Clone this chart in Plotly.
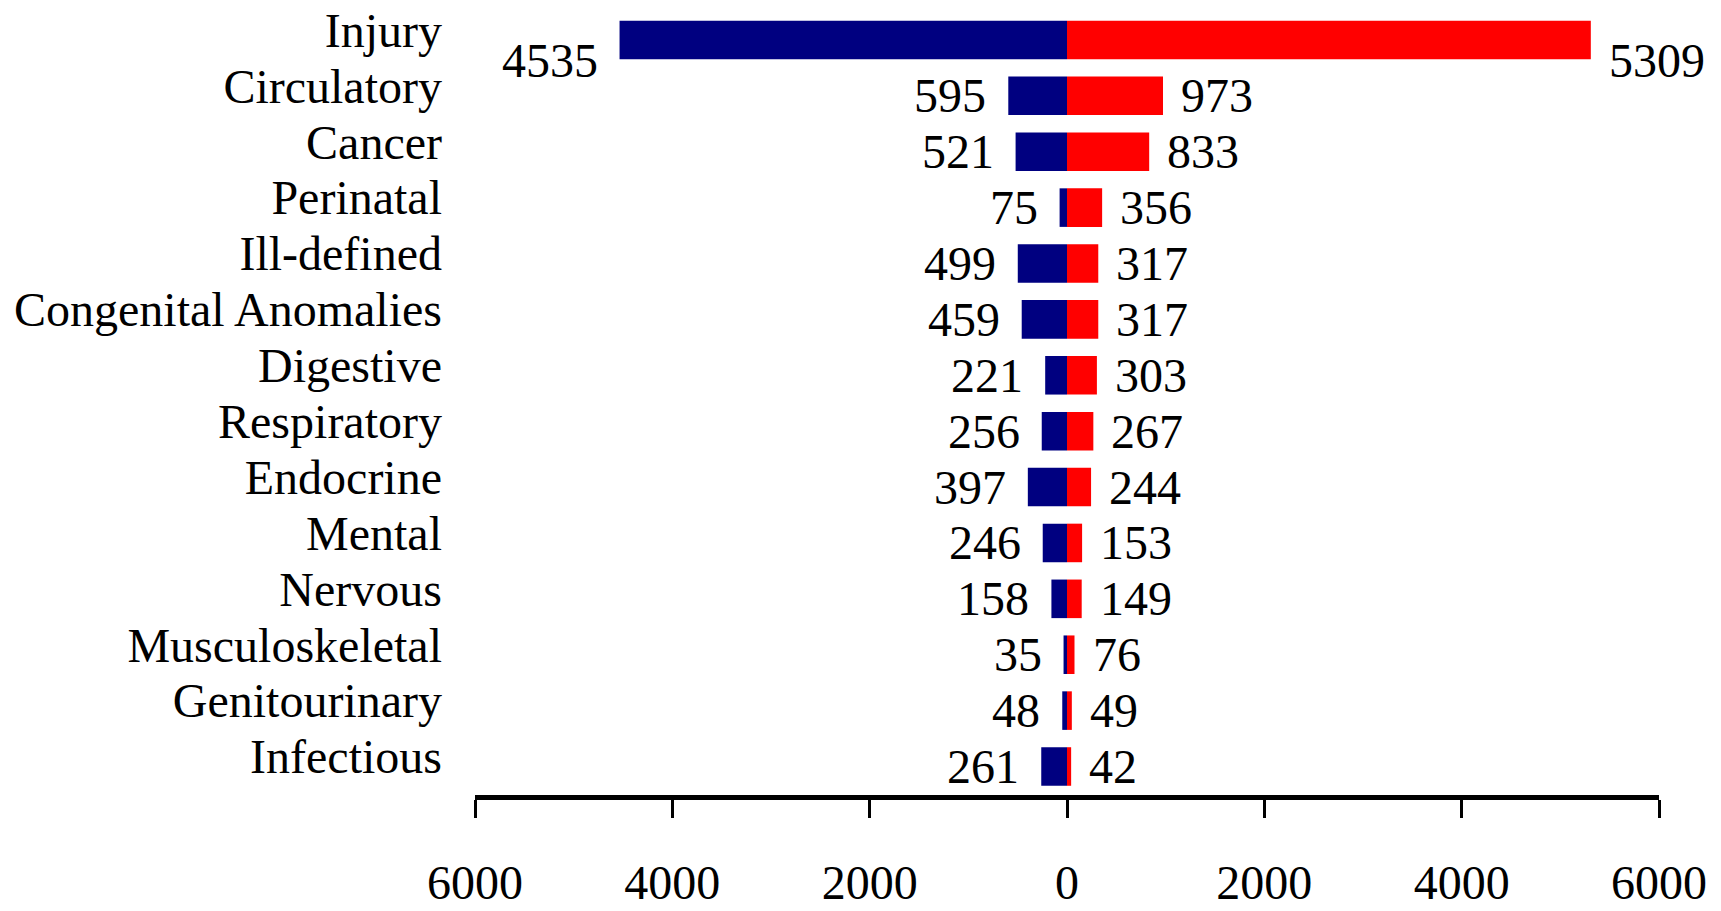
import plotly.graph_objects as go

# Causes of death, listed top to bottom
categories = ["Injury", "Circulatory", "Cancer", "Perinatal", "Ill-defined",
              "Congenital Anomalies", "Digestive", "Respiratory", "Endocrine",
              "Mental", "Nervous", "Musculoskeletal", "Genitourinary", "Infectious"]
left_values = [4535, 595, 521, 75, 499, 459, 221, 256, 397, 246, 158, 35, 48, 261]
right_values = [5309, 973, 833, 356, 317, 317, 303, 267, 244, 153, 149, 76, 49, 42]

tick_vals = [-6000, -4000, -2000, 0, 2000, 4000, 6000]
tick_text = ["6000", "4000", "2000", "0", "2000", "4000", "6000"]

FONT = "Liberation Serif, Times New Roman, serif"
BLUE = "#000080"
RED = "#ff0000"

# categorical y is ordered bottom-up, so feed the lists reversed
ys = categories[::-1]
lv = left_values[::-1]
rv = right_values[::-1]

fig = go.Figure()
fig.add_trace(go.Bar(y=ys, x=[-v for v in lv], orientation="h",
                     marker=dict(color=BLUE, line=dict(width=0)),
                     hoverinfo="skip", showlegend=False))
fig.add_trace(go.Bar(y=ys, x=rv, orientation="h",
                     marker=dict(color=RED, line=dict(width=0)),
                     hoverinfo="skip", showlegend=False))

annotations = []
for cat, l, r in zip(categories, left_values, right_values):
    dy = -21 if cat == "Injury" else 0
    annotations.append(dict(x=-l, y=cat, text=str(l), xanchor="right",
                            yanchor="middle", xshift=-20, yshift=dy,
                            showarrow=False,
                            font=dict(family=FONT, size=48, color="black")))
    annotations.append(dict(x=r, y=cat, text=str(r), xanchor="left",
                            yanchor="middle", xshift=16, yshift=dy,
                            showarrow=False,
                            font=dict(family=FONT, size=48, color="black")))

fig.update_layout(
    template="none",
    width=1721, height=911,
    margin=dict(l=475, r=62, t=12, b=116),
    paper_bgcolor="white", plot_bgcolor="white",
    barmode="relative", bargap=0.31,
    annotations=annotations,
    font=dict(family=FONT, size=48, color="black"),
    xaxis=dict(range=[-6000, 6000], tickmode="array",
               tickvals=tick_vals, ticktext=tick_text,
               automargin=False, showgrid=False, zeroline=False,
               showline=True, linecolor="black", linewidth=4.5,
               ticks="outside", ticklen=18, tickwidth=2.5, tickcolor="black",
               ticklabelstandoff=24,
               tickfont=dict(family=FONT, size=48, color="black")),
    yaxis=dict(automargin=False, showgrid=False, zeroline=False,
               showline=False, ticks="",
               categoryorder="array", categoryarray=ys,
               tickmode="array", tickvals=ys, ticktext=ys,
               ticklabelstandoff=32, ticklabelshift=-10,
               tickfont=dict(family=FONT, size=48, color="black")),
)

fig.write_html("out.html", config={"displayModeBar": False})
